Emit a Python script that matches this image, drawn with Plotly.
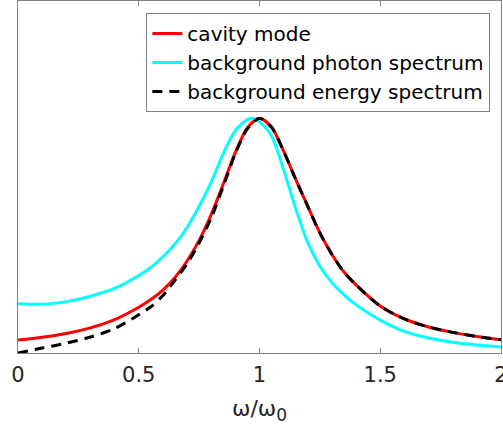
import plotly.graph_objects as go

# omega / omega_0 sample points and values
x_cavity = [0.0, 0.1, 0.2, 0.3, 0.4, 0.5, 0.55, 0.6, 0.65, 0.7, 0.75, 0.8, 0.85, 0.9, 0.95, 1.0,
            1.05, 1.1, 1.15, 1.2, 1.25, 1.3, 1.35, 1.4, 1.5, 1.6, 1.7, 1.8, 1.9, 2.0]
y_cavity = [0.055, 0.067, 0.083, 0.107, 0.142, 0.195, 0.228, 0.268, 0.322, 0.392, 0.48, 0.59, 0.72, 0.855, 0.96, 1.0,
            0.962, 0.86, 0.74, 0.625, 0.512, 0.42, 0.345, 0.29, 0.20, 0.145, 0.111, 0.088, 0.07, 0.056]

x_photon = [0.0, 0.1, 0.2, 0.3, 0.4, 0.5, 0.55, 0.6, 0.65, 0.7, 0.75, 0.8, 0.85, 0.9, 0.95, 0.97, 1.0,
            1.05, 1.1, 1.15, 1.2, 1.25, 1.3, 1.35, 1.4, 1.5, 1.6, 1.7, 1.8, 1.9, 2.0]
y_photon = [0.210, 0.208, 0.219, 0.242, 0.275, 0.33, 0.365, 0.41, 0.465, 0.535, 0.625, 0.728, 0.85, 0.948, 0.995, 1.0, 0.985,
            0.925, 0.78, 0.615, 0.47, 0.37, 0.30, 0.248, 0.205, 0.14, 0.092, 0.064, 0.046, 0.034, 0.026]

x_energy = [0.0, 0.1, 0.2, 0.3, 0.4, 0.5, 0.55, 0.6, 0.65, 0.7, 0.75, 0.8, 0.85, 0.9, 0.95, 1.0,
            1.05, 1.1, 1.15, 1.2, 1.25, 1.3, 1.35, 1.4, 1.5, 1.6, 1.7, 1.8, 1.9, 2.0]
y_energy = [0.0, 0.021, 0.042, 0.068, 0.104, 0.163, 0.197, 0.245, 0.31, 0.38, 0.47, 0.575, 0.71, 0.85, 0.955, 1.0,
            0.962, 0.86, 0.74, 0.625, 0.512, 0.42, 0.345, 0.29, 0.20, 0.145, 0.111, 0.088, 0.07, 0.056]

x_ticks = [0, 0.5, 1, 1.5, 2]
x_tick_labels = ["0", "0.5", "1", "1.5", "2"]

FONT = "DejaVu Sans"

fig = go.Figure()
fig.add_trace(go.Scatter(x=x_cavity, y=y_cavity, mode="lines", name="cavity mode",
                         line=dict(color="#ff0000", width=3, shape="spline", smoothing=0.8)))
fig.add_trace(go.Scatter(x=x_photon, y=y_photon, mode="lines", name="background photon spectrum",
                         line=dict(color="#00ffff", width=3, shape="spline", smoothing=0.8)))
fig.add_trace(go.Scatter(x=x_energy, y=y_energy, mode="lines", name="background energy spectrum",
                         line=dict(color="#000000", width=3, dash="10px,7px", shape="spline", smoothing=0.8)))

fig.update_layout(
    width=503, height=434,
    margin=dict(l=18, r=2, t=1, b=81, autoexpand=False),
    paper_bgcolor="white", plot_bgcolor="white",
    font=dict(family=FONT, size=21, color="#262626"),
    showlegend=True,
    legend=dict(x=0.978, y=0.966, xanchor="right", yanchor="top",
                bgcolor="white", bordercolor="#808080", borderwidth=1,
                font=dict(family=FONT, size=20, color="#000000"),
                tracegroupgap=0, itemwidth=30),
    xaxis=dict(range=[0, 2], tickvals=x_ticks, ticktext=x_tick_labels,
               ticks="inside", ticklen=5, tickcolor="#808080",
               ticklabeloverflow="allow", automargin=False, ticklabelstandoff=3,
               showline=True, linecolor="#808080", linewidth=1, mirror="ticks",
               showgrid=False, zeroline=False,
               title=dict(text="ω/ω<sub><span style='font-size:17px'>0</span></sub>",
                          font=dict(family=FONT, size=22, color="#262626"), standoff=14)),
    yaxis=dict(range=[0, 1.5], showticklabels=False, ticks="", automargin=False,
               showline=True, linecolor="#808080", linewidth=1, mirror=True,
               showgrid=False, zeroline=False),
)

fig.write_html("out.html", config={"displayModeBar": False},
               post_script="document.body.style.margin='0';document.body.style.padding='0';")
